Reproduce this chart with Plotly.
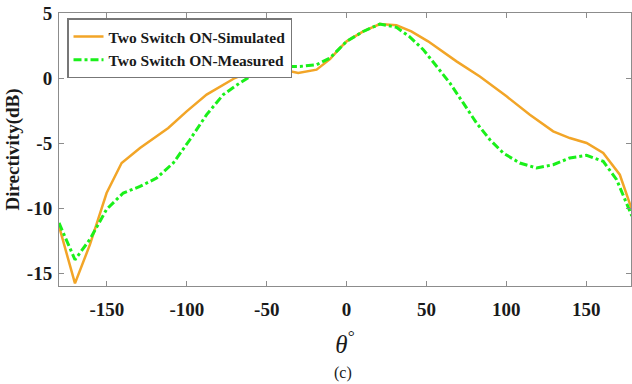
import plotly.graph_objects as go

theta_sim = [-180, -170, -160.6, -150.2, -140.8, -129.3, -111.6, -100.1, -87.6, -69.9, -60.5, -50, -39.7,
             -30.3, -18.8, -10.4, -4.2, 0, 10.4, 20.8, 31.2, 40.5, 51, 68.8, 83.4, 100.1, 114.7, 129.3,
             139.7, 150.2, 160.6, 171, 178.5]
dir_sim = [-11.4, -15.8, -12.8, -8.85, -6.54, -5.38, -3.85, -2.57, -1.28, 0.0, 0.5, 0.72, 0.64,
           0.38, 0.64, 1.45, 2.3, 2.82, 3.58, 4.15, 4.05, 3.58, 2.82, 1.28, 0.12, -1.41, -2.82, -4.1,
           -4.62, -5.0, -5.77, -7.44, -10.1]

theta_meas = [-180, -170, -160.6, -150.2, -139.8, -129.3, -118.9, -108.5, -98.1, -87.6, -77.2, -66.8,
              -58.4, -50, -39.7, -29.2, -18.8, -10.4, -4.2, 0, 10.4, 20.8, 31.2, 39.2, 48, 56.3, 64.6,
              73, 81.3, 89.7, 98, 108.4, 118.9, 129.3, 139.7, 150.2, 160.6, 169, 178.5]
dir_meas = [-11.15, -13.98, -12.4, -10.1, -8.85, -8.34, -7.7, -6.54, -4.75, -2.82, -1.28, -0.38,
            0.25, 0.72, 0.89, 0.89, 1.02, 1.54, 2.3, 2.82, 3.58, 4.15, 3.9, 3.2, 2.18, 0.89, -0.38,
            -1.92, -3.46, -4.75, -5.77, -6.54, -6.92, -6.67, -6.15, -5.95, -6.41, -7.82, -10.6]

x_ticks = [-150, -100, -50, 0, 50, 100, 150]
y_ticks = [5, 0, -5, -10, -15]

SERIF = "Liberation Serif"

fig = go.Figure()
fig.add_trace(go.Scatter(x=theta_sim, y=dir_sim, mode="lines", name="<b>Two Switch ON-Simulated</b>",
                         line=dict(color="#F2A527", width=2.5)))
fig.add_trace(go.Scatter(x=theta_meas, y=dir_meas, mode="lines", name="<b>Two Switch ON-Measured</b>",
                         line=dict(color="#1AF01A", width=3, dash="8px,3px,3px,3px")))

axis_common = dict(showgrid=False, zeroline=False, showline=True, linecolor="#8c8c8c", linewidth=1,
                   mirror="ticks", ticks="inside", ticklen=5, tickcolor="#8c8c8c",
                   tickfont=dict(family=SERIF, size=19, color="#1a1a1a"))

fig.update_xaxes(range=[-180, 178], tickvals=x_ticks, ticktext=[f"<b>{v}</b>" for v in x_ticks],
                 ticklabelstandoff=6,
                 title=dict(text="<i>θ</i><sup>°</sup>", font=dict(family=SERIF, size=25, color="#1a1a1a"),
                            standoff=16),
                 **axis_common)
fig.update_yaxes(range=[-16, 5], tickvals=y_ticks, ticktext=[f"<b>{v}</b>" for v in y_ticks],
                 ticklabelstandoff=2,
                 title=dict(text="<b>Directivity(dB)</b>", font=dict(family=SERIF, size=19, color="#1a1a1a"),
                            standoff=2),
                 **axis_common)

fig.add_annotation(text="(c)", xref="paper", yref="paper", x=0.497, y=-0.32, showarrow=False,
                   xanchor="center", yanchor="middle", font=dict(family=SERIF, size=16, color="#1a1a1a"))

fig.update_layout(
    width=632, height=384,
    margin=dict(l=59, r=1, t=13, b=98),
    plot_bgcolor="white", paper_bgcolor="white",
    legend=dict(x=0.014, y=0.98, xanchor="left", yanchor="top", bgcolor="white",
                bordercolor="#777777", borderwidth=1.5,
                font=dict(family=SERIF, size=15.5, color="#1a1a1a"),
                tracegroupgap=0, itemwidth=30),
    showlegend=True,
)

fig.write_html("out.html")
